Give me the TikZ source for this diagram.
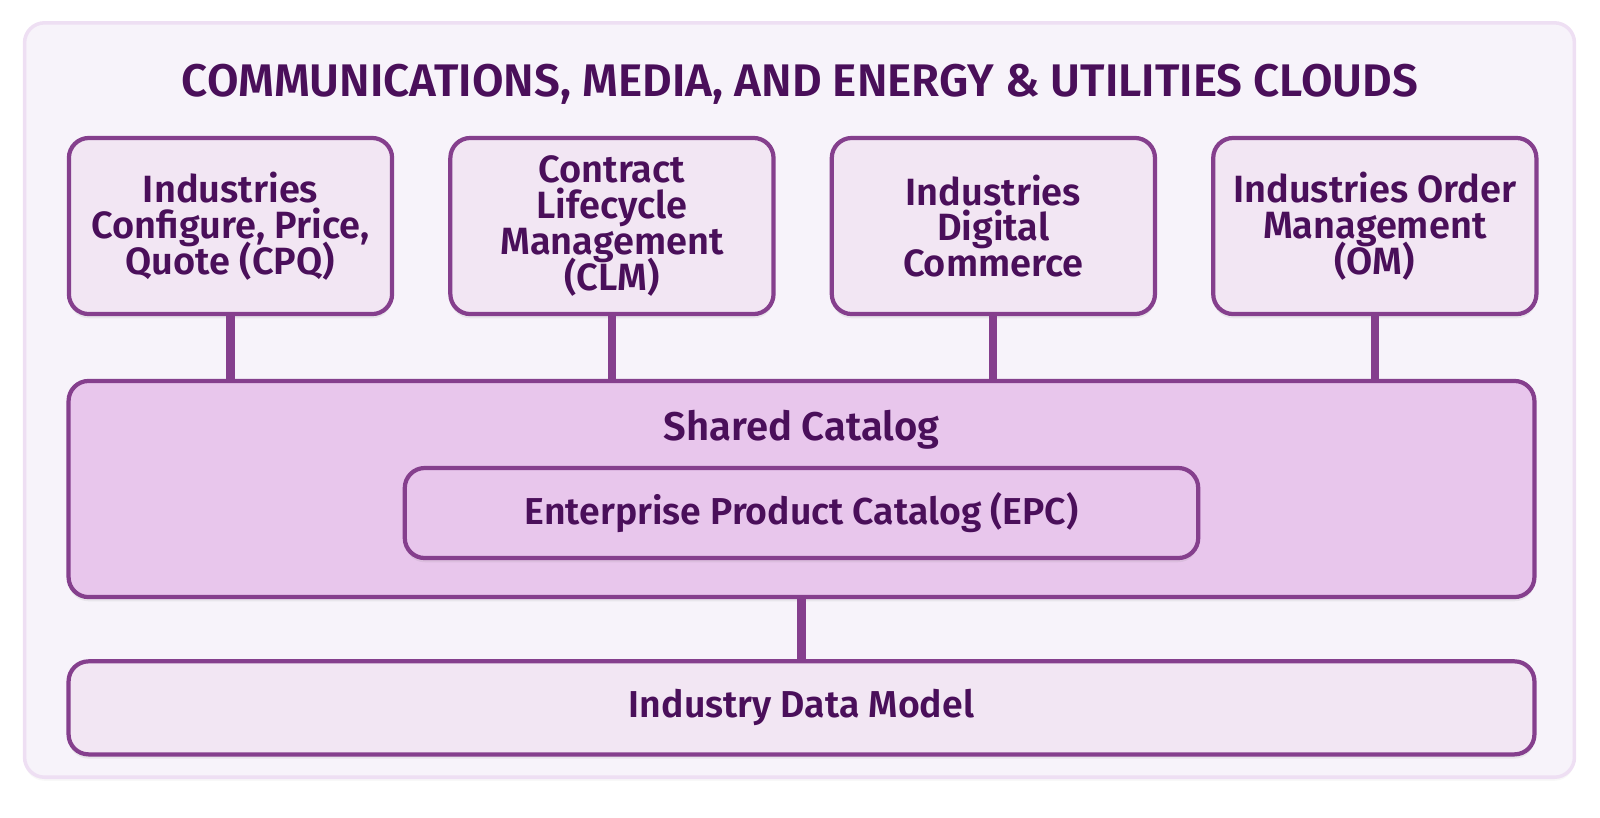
\documentclass[tikz,border=0pt]{standalone}
\usepackage{fontspec}
\setmainfont{Fira Sans}[BoldFont={Fira Sans SemiBold}]
\usetikzlibrary{positioning,shadows}
\definecolor{cmeText}{HTML}{4A0F5A}
\definecolor{cmeLine}{HTML}{853F8D}
\definecolor{cmePanel}{HTML}{F7F3FA}
\definecolor{cmeRim}{HTML}{EEDFF3}
\definecolor{cmeLight}{HTML}{F2E6F3}
\definecolor{cmeMid}{HTML}{E8C6EC}
\newcommand\tightlines{\lineskiplimit=-100pt\relax}
\begin{document}
\begin{tikzpicture}[x=0.01cm, y=-0.01cm,
  panel/.style={draw=cmeRim, line width=1pt, rounded corners=0.2cm, fill=cmePanel,
                minimum width=15.49cm, minimum height=7.54cm,
                drop shadow={shadow xshift=0pt, shadow yshift=-1pt, opacity=0.06}},
  box/.style={draw=cmeLine, line width=1.2pt, rounded corners=0.2cm, fill=cmeLight,
              text=cmeText, font=\bfseries\fontsize{10.8}{10.15}\selectfont\tightlines,
              align=center, inner sep=0pt,
              drop shadow={shadow xshift=0pt, shadow yshift=-1.2pt, opacity=0.12}},
  title/.style={text=cmeText, font=\bfseries\fontsize{13}{15}\selectfont, inner sep=0pt},
  link/.style={cmeLine, line width=2.3pt}
]
  \useasboundingbox (0,0) rectangle (1600,817);
  \node[panel] (panel) at (799.5,400) {};
  \node[title, anchor=base] (heading) at (800,96)
    {COMMUNICATIONS, MEDIA, AND ENERGY \& UTILITIES CLOUDS};

  % top row of clouds
  \node[box, minimum width=3.23cm, minimum height=1.76cm] (cpq) at (230.5,226)
    {Industries\\Configure, Price,\\Quote (CPQ)};
  \node[box, minimum width=3.23cm, minimum height=1.76cm, right=0.54cm of cpq] (clm)
    {Contract\\Lifecycle\\Management\\(CLM)};
  \node[box, minimum width=3.23cm, minimum height=1.76cm, right=0.54cm of clm] (idc)
    {Industries\\Digital\\Commerce};
  \node[box, minimum width=3.23cm, minimum height=1.76cm, right=0.54cm of idc] (iom)
    {Industries Order\\Management\\(OM)};

  % shared catalog layer
  \node[box, fill=cmeMid, minimum width=14.65cm, minimum height=2.16cm] (shared) at (801.5,489) {};
  \node[title, font=\bfseries\fontsize{11.4}{13}\selectfont, anchor=base] (sharedlbl) at (801.5,440)
    {Shared Catalog};
  \node[box, fill=cmeMid, minimum width=7.93cm, minimum height=0.9cm,
        font=\bfseries\fontsize{10.65}{12}\selectfont] (epc) at (801.5,513)
    {Enterprise Product Catalog (EPC)};

  \node[box, minimum width=14.65cm, minimum height=0.93cm,
        font=\bfseries\fontsize{10.65}{12}\selectfont, below=0.6cm of shared] (datamodel)
    {Industry Data Model};

  \foreach \b in {cpq,clm,idc,iom}
    \draw[link] (\b.south) -- (\b.south |- shared.north);
  \draw[link] (shared.south) -- (datamodel.north);
\end{tikzpicture}
\end{document}
